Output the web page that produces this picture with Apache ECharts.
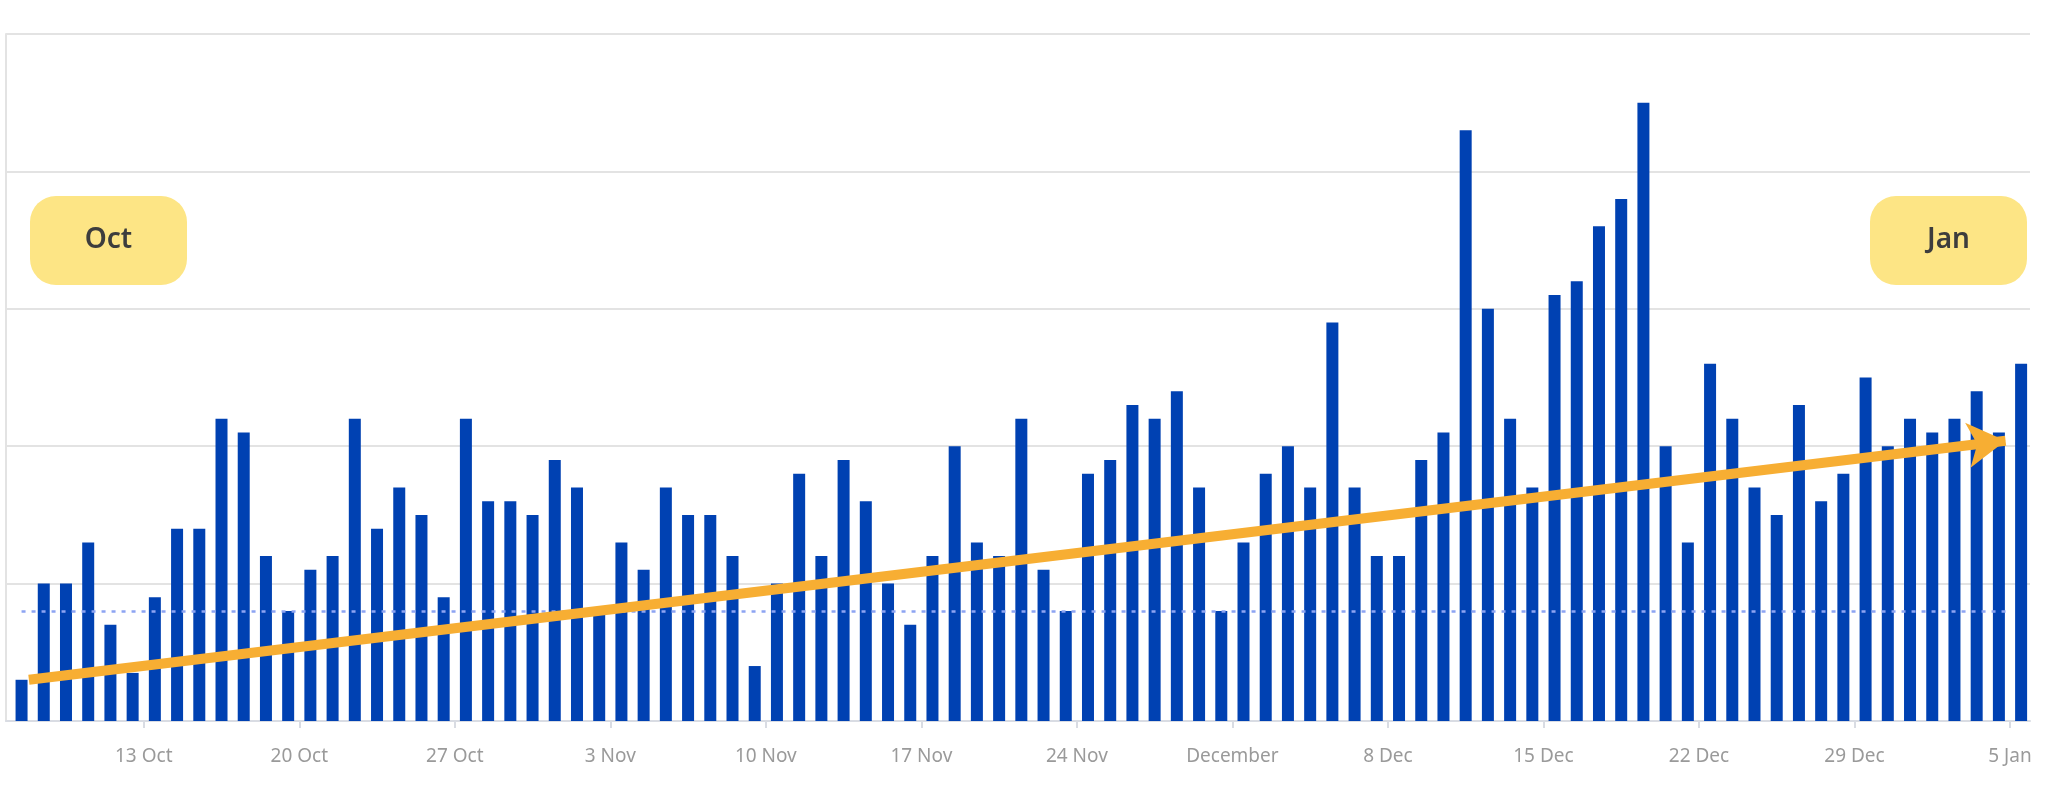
<!DOCTYPE html>
<html><head><meta charset="utf-8">
<script src="https://cdn.jsdelivr.net/npm/echarts@6/dist/echarts.min.js"></script>
<style>html,body{margin:0;padding:0;background:#fff}#c{width:2048px;height:788px}</style>
</head><body><div id="c"></div>
<script>
// day index 1 = 7 Oct ... 91 = 5 Jan
const values = [3,10,10,13,7,3.5,9,14,14,22,21,12,8,11,12,22,14,17,15,9,22,16,16,15,19,17,8,13,11,17,15,
15,12,4,10,18,12,19,16,10,7,12,20,13,12,22,11,8,18,19,23,22,24,17,8,13,18,20,17,29,17,12,
12,19,21,43,30,22,17,31,32,36,38,45,20,13,26,22,17,15,23,16,18,25,20,22,21,22,24,21,26];
const tickDays = [7,14,21,28,35,42,49,56,63,70,77,84,91];
const tickLabels = ['13 Oct','20 Oct','27 Oct','3 Nov','10 Nov','17 Nov','24 Nov','December','8 Dec','15 Dec','22 Dec','29 Dec','5 Jan'];
const averageValue = 8;
const trendStart = [1.83, 3.0];
const trendEnd = [90.8, 20.4];

const barData = values.map((v,i)=>[i+1.5, v]);
const chart = echarts.init(document.getElementById('c'));
chart.setOption({
  animation:false,
  grid:{left:6,right:18,top:34,bottom:67},
  xAxis:{type:'value',min:0.8,max:91.9,
    splitLine:{show:false},
    axisLine:{show:true,lineStyle:{color:'#d9dce3',width:2}},
    axisTick:{show:true,customValues:tickDays,length:7,lineStyle:{color:'#d9dce3',width:2}},
    axisLabel:{customValues:tickDays,color:'#9a9a9a',fontSize:19,fontFamily:'Noto Sans',margin:26,
      formatter:(v)=>{const k=tickDays.indexOf(Math.round(v));return k>=0?tickLabels[k]:'';}}
  },
  yAxis:{type:'value',min:0,max:50,interval:10,
    axisLabel:{show:false},axisTick:{show:false},
    axisLine:{show:true,lineStyle:{color:'#e3e3e3',width:2}},
    splitLine:{lineStyle:{color:'#e3e3e3',width:2}}},
  series:[
    {type:'bar',data:barData,barWidth:12,itemStyle:{color:'#0041b2'},
      markLine:{silent:true,symbol:['none','none'],label:{show:false},
        lineStyle:{color:'#8da4f2',type:[4,6],width:2.5},
        data:[[{coord:[1.5,averageValue]},{coord:[90.8,averageValue]}]]}},
    {type:'line',data:[],
      markLine:{silent:true,symbol:['none','arrow'],symbolSize:[34,38],label:{show:false},
        lineStyle:{color:'#f7ae33',type:'solid',width:10,opacity:1},
        data:[[{coord:trendStart},{coord:trendEnd}]]}}
  ],
  graphic:[
    {type:'group',left:30,top:196,children:[
      {type:'rect',shape:{x:0,y:0,width:157,height:89,r:26},style:{fill:'#fde585'}},
      {type:'text',x:78.5,y:44.5,style:{text:'Oct',fill:'#3d3d3d',font:'600 28px "Noto Sans"',align:'center',verticalAlign:'middle'}}]},
    {type:'group',left:1870,top:196,children:[
      {type:'rect',shape:{x:0,y:0,width:157,height:89,r:26},style:{fill:'#fde585'}},
      {type:'text',x:78.5,y:44.5,style:{text:'Jan',fill:'#3d3d3d',font:'600 28px "Noto Sans"',align:'center',verticalAlign:'middle'}}]}
  ]
});
</script></body></html>
